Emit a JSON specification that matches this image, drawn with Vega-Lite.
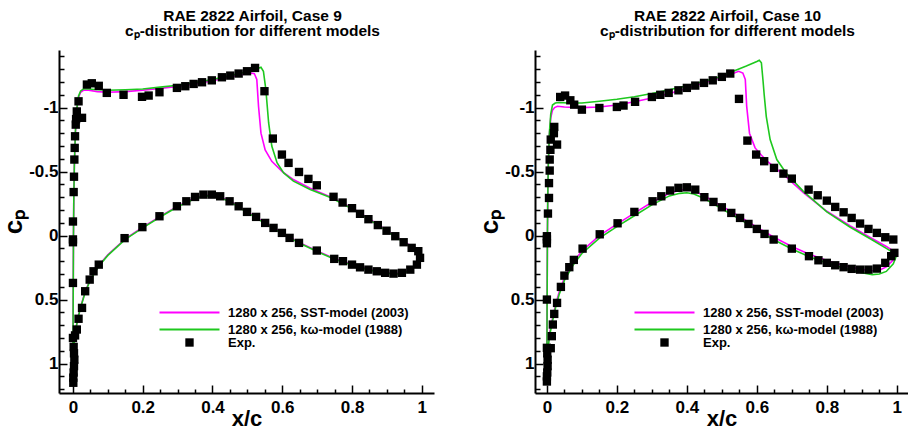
{
"$schema": "https://vega.github.io/schema/vega-lite/v6.json",
"autosize": {"type": "pad"},
"padding": {"left": 0, "top": 8, "right": 0, "bottom": 3},
"background": "white",
"spacing": 101,
"bounds": "flush",
"datasets": {
"cfd": [
{"case":9,"model":"SST","i":0,"x":1,"cp":0.16},{"case":9,"model":"SST","i":1,"x":0.99,"cp":0.21},{"case":9,"model":"SST","i":2,"x":0.97,"cp":0.26},{"case":9,"model":"SST","i":3,"x":0.95,"cp":0.285},{"case":9,"model":"SST","i":4,"x":0.93,"cp":0.295},{"case":9,"model":"SST","i":5,"x":0.9,"cp":0.29},{"case":9,"model":"SST","i":6,"x":0.85,"cp":0.265},{"case":9,"model":"SST","i":7,"x":0.8,"cp":0.225},{"case":9,"model":"SST","i":8,"x":0.75,"cp":0.18},{"case":9,"model":"SST","i":9,"x":0.7,"cp":0.12},{"case":9,"model":"SST","i":10,"x":0.65,"cp":0.055},{"case":9,"model":"SST","i":11,"x":0.6,"cp":-0.02},{"case":9,"model":"SST","i":12,"x":0.55,"cp":-0.1},{"case":9,"model":"SST","i":13,"x":0.5,"cp":-0.185},{"case":9,"model":"SST","i":14,"x":0.45,"cp":-0.27},{"case":9,"model":"SST","i":15,"x":0.42,"cp":-0.305},{"case":9,"model":"SST","i":16,"x":0.4,"cp":-0.315},{"case":9,"model":"SST","i":17,"x":0.38,"cp":-0.315},{"case":9,"model":"SST","i":18,"x":0.35,"cp":-0.295},{"case":9,"model":"SST","i":19,"x":0.3,"cp":-0.23},{"case":9,"model":"SST","i":20,"x":0.25,"cp":-0.15},{"case":9,"model":"SST","i":21,"x":0.2,"cp":-0.065},{"case":9,"model":"SST","i":22,"x":0.15,"cp":0.025},{"case":9,"model":"SST","i":23,"x":0.1,"cp":0.15},{"case":9,"model":"SST","i":24,"x":0.075,"cp":0.23},{"case":9,"model":"SST","i":25,"x":0.05,"cp":0.34},{"case":9,"model":"SST","i":26,"x":0.035,"cp":0.44},{"case":9,"model":"SST","i":27,"x":0.025,"cp":0.53},{"case":9,"model":"SST","i":28,"x":0.015,"cp":0.63},{"case":9,"model":"SST","i":29,"x":0.008,"cp":0.73},{"case":9,"model":"SST","i":30,"x":0.003,"cp":0.85},{"case":9,"model":"SST","i":31,"x":0,"cp":1.0},
{"case":9,"model":"SST","i":32,"x":0.0005,"cp":0.6},{"case":9,"model":"SST","i":33,"x":0.001,"cp":0.3},{"case":9,"model":"SST","i":34,"x":0.0015,"cp":0},{"case":9,"model":"SST","i":35,"x":0.0025,"cp":-0.3},{"case":9,"model":"SST","i":36,"x":0.004,"cp":-0.55},{"case":9,"model":"SST","i":37,"x":0.007,"cp":-0.8},{"case":9,"model":"SST","i":38,"x":0.011,"cp":-0.98},{"case":9,"model":"SST","i":39,"x":0.016,"cp":-1.08},{"case":9,"model":"SST","i":40,"x":0.022,"cp":-1.12},{"case":9,"model":"SST","i":41,"x":0.03,"cp":-1.135},{"case":9,"model":"SST","i":42,"x":0.045,"cp":-1.135},{"case":9,"model":"SST","i":43,"x":0.07,"cp":-1.125},{"case":9,"model":"SST","i":44,"x":0.1,"cp":-1.12},{"case":9,"model":"SST","i":45,"x":0.15,"cp":-1.125},{"case":9,"model":"SST","i":46,"x":0.2,"cp":-1.135},{"case":9,"model":"SST","i":47,"x":0.25,"cp":-1.15},{"case":9,"model":"SST","i":48,"x":0.3,"cp":-1.165},{"case":9,"model":"SST","i":49,"x":0.35,"cp":-1.185},{"case":9,"model":"SST","i":50,"x":0.4,"cp":-1.21},{"case":9,"model":"SST","i":51,"x":0.45,"cp":-1.24},{"case":9,"model":"SST","i":52,"x":0.49,"cp":-1.26},{"case":9,"model":"SST","i":53,"x":0.51,"cp":-1.27},{"case":9,"model":"SST","i":54,"x":0.52,"cp":-1.265},{"case":9,"model":"SST","i":55,"x":0.527,"cp":-1.22},{"case":9,"model":"SST","i":56,"x":0.532,"cp":-1.01},{"case":9,"model":"SST","i":57,"x":0.539,"cp":-0.8},{"case":9,"model":"SST","i":58,"x":0.551,"cp":-0.67},{"case":9,"model":"SST","i":59,"x":0.57,"cp":-0.58},{"case":9,"model":"SST","i":60,"x":0.6,"cp":-0.5},{"case":9,"model":"SST","i":61,"x":0.63,"cp":-0.44},{"case":9,"model":"SST","i":62,"x":0.68,"cp":-0.37},{"case":9,"model":"SST","i":63,"x":0.74,"cp":-0.3},{"case":9,"model":"SST","i":64,"x":0.8,"cp":-0.215},{"case":9,"model":"SST","i":65,"x":0.85,"cp":-0.13},{"case":9,"model":"SST","i":66,"x":0.9,"cp":-0.04},{"case":9,"model":"SST","i":67,"x":0.95,"cp":0.05},{"case":9,"model":"SST","i":68,"x":0.98,"cp":0.1},{"case":9,"model":"SST","i":69,"x":1,"cp":0.16},
{"case":9,"model":"kw","i":0,"x":1,"cp":0.165},{"case":9,"model":"kw","i":1,"x":0.99,"cp":0.215},{"case":9,"model":"kw","i":2,"x":0.97,"cp":0.265},{"case":9,"model":"kw","i":3,"x":0.95,"cp":0.29},{"case":9,"model":"kw","i":4,"x":0.93,"cp":0.3},{"case":9,"model":"kw","i":5,"x":0.9,"cp":0.295},{"case":9,"model":"kw","i":6,"x":0.85,"cp":0.27},{"case":9,"model":"kw","i":7,"x":0.8,"cp":0.23},{"case":9,"model":"kw","i":8,"x":0.75,"cp":0.185},{"case":9,"model":"kw","i":9,"x":0.7,"cp":0.125},{"case":9,"model":"kw","i":10,"x":0.65,"cp":0.06},{"case":9,"model":"kw","i":11,"x":0.6,"cp":-0.015},{"case":9,"model":"kw","i":12,"x":0.55,"cp":-0.095},{"case":9,"model":"kw","i":13,"x":0.5,"cp":-0.18},{"case":9,"model":"kw","i":14,"x":0.45,"cp":-0.265},{"case":9,"model":"kw","i":15,"x":0.42,"cp":-0.3},{"case":9,"model":"kw","i":16,"x":0.4,"cp":-0.31},{"case":9,"model":"kw","i":17,"x":0.38,"cp":-0.31},{"case":9,"model":"kw","i":18,"x":0.35,"cp":-0.29},{"case":9,"model":"kw","i":19,"x":0.3,"cp":-0.225},{"case":9,"model":"kw","i":20,"x":0.25,"cp":-0.145},{"case":9,"model":"kw","i":21,"x":0.2,"cp":-0.06},{"case":9,"model":"kw","i":22,"x":0.15,"cp":0.03},{"case":9,"model":"kw","i":23,"x":0.1,"cp":0.155},{"case":9,"model":"kw","i":24,"x":0.075,"cp":0.235},{"case":9,"model":"kw","i":25,"x":0.05,"cp":0.345},{"case":9,"model":"kw","i":26,"x":0.035,"cp":0.445},{"case":9,"model":"kw","i":27,"x":0.025,"cp":0.535},{"case":9,"model":"kw","i":28,"x":0.015,"cp":0.635},{"case":9,"model":"kw","i":29,"x":0.008,"cp":0.735},{"case":9,"model":"kw","i":30,"x":0.003,"cp":0.855},{"case":9,"model":"kw","i":31,"x":0,"cp":1.0},
{"case":9,"model":"kw","i":32,"x":0.0005,"cp":0.6},{"case":9,"model":"kw","i":33,"x":0.001,"cp":0.3},{"case":9,"model":"kw","i":34,"x":0.0015,"cp":0},{"case":9,"model":"kw","i":35,"x":0.0025,"cp":-0.3},{"case":9,"model":"kw","i":36,"x":0.004,"cp":-0.55},{"case":9,"model":"kw","i":37,"x":0.007,"cp":-0.81},{"case":9,"model":"kw","i":38,"x":0.011,"cp":-0.99},{"case":9,"model":"kw","i":39,"x":0.016,"cp":-1.09},{"case":9,"model":"kw","i":40,"x":0.022,"cp":-1.13},{"case":9,"model":"kw","i":41,"x":0.03,"cp":-1.145},{"case":9,"model":"kw","i":42,"x":0.045,"cp":-1.145},{"case":9,"model":"kw","i":43,"x":0.07,"cp":-1.14},{"case":9,"model":"kw","i":44,"x":0.1,"cp":-1.135},{"case":9,"model":"kw","i":45,"x":0.15,"cp":-1.14},{"case":9,"model":"kw","i":46,"x":0.2,"cp":-1.145},{"case":9,"model":"kw","i":47,"x":0.25,"cp":-1.16},{"case":9,"model":"kw","i":48,"x":0.3,"cp":-1.175},{"case":9,"model":"kw","i":49,"x":0.35,"cp":-1.195},{"case":9,"model":"kw","i":50,"x":0.4,"cp":-1.22},{"case":9,"model":"kw","i":51,"x":0.45,"cp":-1.25},{"case":9,"model":"kw","i":52,"x":0.5,"cp":-1.28},{"case":9,"model":"kw","i":53,"x":0.53,"cp":-1.305},{"case":9,"model":"kw","i":54,"x":0.539,"cp":-1.315},{"case":9,"model":"kw","i":55,"x":0.546,"cp":-1.284},{"case":9,"model":"kw","i":56,"x":0.553,"cp":-1.14},{"case":9,"model":"kw","i":57,"x":0.561,"cp":-0.88},{"case":9,"model":"kw","i":58,"x":0.57,"cp":-0.7},{"case":9,"model":"kw","i":59,"x":0.585,"cp":-0.57},{"case":9,"model":"kw","i":60,"x":0.604,"cp":-0.49},{"case":9,"model":"kw","i":61,"x":0.632,"cp":-0.425},{"case":9,"model":"kw","i":62,"x":0.68,"cp":-0.36},{"case":9,"model":"kw","i":63,"x":0.74,"cp":-0.295},{"case":9,"model":"kw","i":64,"x":0.8,"cp":-0.21},{"case":9,"model":"kw","i":65,"x":0.85,"cp":-0.125},{"case":9,"model":"kw","i":66,"x":0.9,"cp":-0.035},{"case":9,"model":"kw","i":67,"x":0.95,"cp":0.055},{"case":9,"model":"kw","i":68,"x":0.98,"cp":0.105},{"case":9,"model":"kw","i":69,"x":1,"cp":0.165},
{"case":10,"model":"SST","i":0,"x":1,"cp":0.14},{"case":10,"model":"SST","i":1,"x":0.99,"cp":0.19},{"case":10,"model":"SST","i":2,"x":0.97,"cp":0.245},{"case":10,"model":"SST","i":3,"x":0.95,"cp":0.27},{"case":10,"model":"SST","i":4,"x":0.93,"cp":0.275},{"case":10,"model":"SST","i":5,"x":0.9,"cp":0.265},{"case":10,"model":"SST","i":6,"x":0.85,"cp":0.235},{"case":10,"model":"SST","i":7,"x":0.8,"cp":0.195},{"case":10,"model":"SST","i":8,"x":0.75,"cp":0.145},{"case":10,"model":"SST","i":9,"x":0.7,"cp":0.085},{"case":10,"model":"SST","i":10,"x":0.65,"cp":0.015},{"case":10,"model":"SST","i":11,"x":0.6,"cp":-0.065},{"case":10,"model":"SST","i":12,"x":0.55,"cp":-0.15},{"case":10,"model":"SST","i":13,"x":0.5,"cp":-0.23},{"case":10,"model":"SST","i":14,"x":0.45,"cp":-0.31},{"case":10,"model":"SST","i":15,"x":0.42,"cp":-0.35},{"case":10,"model":"SST","i":16,"x":0.4,"cp":-0.36},{"case":10,"model":"SST","i":17,"x":0.38,"cp":-0.355},{"case":10,"model":"SST","i":18,"x":0.35,"cp":-0.33},{"case":10,"model":"SST","i":19,"x":0.3,"cp":-0.26},{"case":10,"model":"SST","i":20,"x":0.25,"cp":-0.175},{"case":10,"model":"SST","i":21,"x":0.2,"cp":-0.09},{"case":10,"model":"SST","i":22,"x":0.15,"cp":0.0},{"case":10,"model":"SST","i":23,"x":0.1,"cp":0.12},{"case":10,"model":"SST","i":24,"x":0.075,"cp":0.21},{"case":10,"model":"SST","i":25,"x":0.05,"cp":0.33},{"case":10,"model":"SST","i":26,"x":0.035,"cp":0.44},{"case":10,"model":"SST","i":27,"x":0.025,"cp":0.54},{"case":10,"model":"SST","i":28,"x":0.015,"cp":0.66},{"case":10,"model":"SST","i":29,"x":0.008,"cp":0.76},{"case":10,"model":"SST","i":30,"x":0.003,"cp":0.87},{"case":10,"model":"SST","i":31,"x":0,"cp":1.0},
{"case":10,"model":"SST","i":32,"x":0.0005,"cp":0.6},{"case":10,"model":"SST","i":33,"x":0.001,"cp":0.3},{"case":10,"model":"SST","i":34,"x":0.0015,"cp":0},{"case":10,"model":"SST","i":35,"x":0.0025,"cp":-0.3},{"case":10,"model":"SST","i":36,"x":0.004,"cp":-0.55},{"case":10,"model":"SST","i":37,"x":0.007,"cp":-0.78},{"case":10,"model":"SST","i":38,"x":0.011,"cp":-0.92},{"case":10,"model":"SST","i":39,"x":0.016,"cp":-0.98},{"case":10,"model":"SST","i":40,"x":0.022,"cp":-1.0},{"case":10,"model":"SST","i":41,"x":0.03,"cp":-1.01},{"case":10,"model":"SST","i":42,"x":0.05,"cp":-1.005},{"case":10,"model":"SST","i":43,"x":0.1,"cp":-1.0},{"case":10,"model":"SST","i":44,"x":0.15,"cp":-1.005},{"case":10,"model":"SST","i":45,"x":0.2,"cp":-1.02},{"case":10,"model":"SST","i":46,"x":0.25,"cp":-1.045},{"case":10,"model":"SST","i":47,"x":0.3,"cp":-1.075},{"case":10,"model":"SST","i":48,"x":0.35,"cp":-1.11},{"case":10,"model":"SST","i":49,"x":0.4,"cp":-1.15},{"case":10,"model":"SST","i":50,"x":0.45,"cp":-1.195},{"case":10,"model":"SST","i":51,"x":0.5,"cp":-1.235},{"case":10,"model":"SST","i":52,"x":0.53,"cp":-1.265},{"case":10,"model":"SST","i":53,"x":0.548,"cp":-1.284},{"case":10,"model":"SST","i":54,"x":0.56,"cp":-1.27},{"case":10,"model":"SST","i":55,"x":0.567,"cp":-1.22},{"case":10,"model":"SST","i":56,"x":0.571,"cp":-1.01},{"case":10,"model":"SST","i":57,"x":0.579,"cp":-0.8},{"case":10,"model":"SST","i":58,"x":0.595,"cp":-0.685},{"case":10,"model":"SST","i":59,"x":0.624,"cp":-0.594},{"case":10,"model":"SST","i":60,"x":0.676,"cp":-0.477},{"case":10,"model":"SST","i":61,"x":0.733,"cp":-0.335},{"case":10,"model":"SST","i":62,"x":0.8,"cp":-0.19},{"case":10,"model":"SST","i":63,"x":0.867,"cp":-0.075},{"case":10,"model":"SST","i":64,"x":0.924,"cp":0.015},{"case":10,"model":"SST","i":65,"x":0.97,"cp":0.085},{"case":10,"model":"SST","i":66,"x":1,"cp":0.14},
{"case":10,"model":"kw","i":0,"x":1,"cp":0.15},{"case":10,"model":"kw","i":1,"x":0.99,"cp":0.22},{"case":10,"model":"kw","i":2,"x":0.97,"cp":0.28},{"case":10,"model":"kw","i":3,"x":0.95,"cp":0.3},{"case":10,"model":"kw","i":4,"x":0.93,"cp":0.305},{"case":10,"model":"kw","i":5,"x":0.9,"cp":0.29},{"case":10,"model":"kw","i":6,"x":0.85,"cp":0.255},{"case":10,"model":"kw","i":7,"x":0.8,"cp":0.215},{"case":10,"model":"kw","i":8,"x":0.75,"cp":0.165},{"case":10,"model":"kw","i":9,"x":0.7,"cp":0.105},{"case":10,"model":"kw","i":10,"x":0.65,"cp":0.035},{"case":10,"model":"kw","i":11,"x":0.6,"cp":-0.045},{"case":10,"model":"kw","i":12,"x":0.55,"cp":-0.13},{"case":10,"model":"kw","i":13,"x":0.5,"cp":-0.21},{"case":10,"model":"kw","i":14,"x":0.45,"cp":-0.29},{"case":10,"model":"kw","i":15,"x":0.42,"cp":-0.325},{"case":10,"model":"kw","i":16,"x":0.4,"cp":-0.335},{"case":10,"model":"kw","i":17,"x":0.38,"cp":-0.33},{"case":10,"model":"kw","i":18,"x":0.35,"cp":-0.31},{"case":10,"model":"kw","i":19,"x":0.3,"cp":-0.24},{"case":10,"model":"kw","i":20,"x":0.25,"cp":-0.155},{"case":10,"model":"kw","i":21,"x":0.2,"cp":-0.07},{"case":10,"model":"kw","i":22,"x":0.15,"cp":0.02},{"case":10,"model":"kw","i":23,"x":0.1,"cp":0.14},{"case":10,"model":"kw","i":24,"x":0.075,"cp":0.23},{"case":10,"model":"kw","i":25,"x":0.05,"cp":0.35},{"case":10,"model":"kw","i":26,"x":0.035,"cp":0.46},{"case":10,"model":"kw","i":27,"x":0.025,"cp":0.56},{"case":10,"model":"kw","i":28,"x":0.015,"cp":0.68},{"case":10,"model":"kw","i":29,"x":0.008,"cp":0.78},{"case":10,"model":"kw","i":30,"x":0.003,"cp":0.88},{"case":10,"model":"kw","i":31,"x":0,"cp":1.0},
{"case":10,"model":"kw","i":32,"x":0.0005,"cp":0.6},{"case":10,"model":"kw","i":33,"x":0.001,"cp":0.3},{"case":10,"model":"kw","i":34,"x":0.0015,"cp":0},{"case":10,"model":"kw","i":35,"x":0.0025,"cp":-0.3},{"case":10,"model":"kw","i":36,"x":0.004,"cp":-0.55},{"case":10,"model":"kw","i":37,"x":0.007,"cp":-0.8},{"case":10,"model":"kw","i":38,"x":0.011,"cp":-0.95},{"case":10,"model":"kw","i":39,"x":0.016,"cp":-1.02},{"case":10,"model":"kw","i":40,"x":0.024,"cp":-1.036},{"case":10,"model":"kw","i":41,"x":0.035,"cp":-1.04},{"case":10,"model":"kw","i":42,"x":0.06,"cp":-1.036},{"case":10,"model":"kw","i":43,"x":0.1,"cp":-1.036},{"case":10,"model":"kw","i":44,"x":0.15,"cp":-1.05},{"case":10,"model":"kw","i":45,"x":0.2,"cp":-1.065},{"case":10,"model":"kw","i":46,"x":0.25,"cp":-1.085},{"case":10,"model":"kw","i":47,"x":0.3,"cp":-1.11},{"case":10,"model":"kw","i":48,"x":0.35,"cp":-1.14},{"case":10,"model":"kw","i":49,"x":0.4,"cp":-1.17},{"case":10,"model":"kw","i":50,"x":0.45,"cp":-1.205},{"case":10,"model":"kw","i":51,"x":0.5,"cp":-1.245},{"case":10,"model":"kw","i":52,"x":0.538,"cp":-1.29},{"case":10,"model":"kw","i":53,"x":0.57,"cp":-1.325},{"case":10,"model":"kw","i":54,"x":0.6,"cp":-1.36},{"case":10,"model":"kw","i":55,"x":0.607,"cp":-1.37},{"case":10,"model":"kw","i":56,"x":0.613,"cp":-1.35},{"case":10,"model":"kw","i":57,"x":0.618,"cp":-1.2},{"case":10,"model":"kw","i":58,"x":0.621,"cp":-1.1},{"case":10,"model":"kw","i":59,"x":0.627,"cp":-0.93},{"case":10,"model":"kw","i":60,"x":0.638,"cp":-0.75},{"case":10,"model":"kw","i":61,"x":0.657,"cp":-0.594},{"case":10,"model":"kw","i":62,"x":0.686,"cp":-0.48},{"case":10,"model":"kw","i":63,"x":0.733,"cp":-0.345},{"case":10,"model":"kw","i":64,"x":0.8,"cp":-0.185},{"case":10,"model":"kw","i":65,"x":0.867,"cp":-0.065},{"case":10,"model":"kw","i":66,"x":0.924,"cp":0.025},{"case":10,"model":"kw","i":67,"x":0.97,"cp":0.1},{"case":10,"model":"kw","i":68,"x":1,"cp":0.15}
],
"exp": [
{"case":9,"x":0.0,"cp":0.03},{"case":9,"x":0.0,"cp":-0.11},{"case":9,"x":0.002,"cp":-0.34},{"case":9,"x":0.003,"cp":-0.46},{"case":9,"x":0.004,"cp":-0.594},{"case":9,"x":0.005,"cp":-0.685},{"case":9,"x":0.006,"cp":-0.776},{"case":9,"x":0.008,"cp":-0.867},{"case":9,"x":0.009,"cp":-0.91},{"case":9,"x":0.011,"cp":-0.97},{"case":9,"x":0.016,"cp":-1.049},{"case":9,"x":0.026,"cp":-0.92},
{"case":9,"x":0.04,"cp":-1.18},{"case":9,"x":0.054,"cp":-1.19},{"case":9,"x":0.074,"cp":-1.17},{"case":9,"x":0.097,"cp":-1.115},{"case":9,"x":0.145,"cp":-1.1},{"case":9,"x":0.198,"cp":-1.084},{"case":9,"x":0.217,"cp":-1.094},{"case":9,"x":0.248,"cp":-1.12},{"case":9,"x":0.298,"cp":-1.154},{"case":9,"x":0.322,"cp":-1.167},{"case":9,"x":0.346,"cp":-1.185},{"case":9,"x":0.37,"cp":-1.198},{"case":9,"x":0.398,"cp":-1.213},{"case":9,"x":0.427,"cp":-1.237},{"case":9,"x":0.451,"cp":-1.25},{"case":9,"x":0.475,"cp":-1.266},{"case":9,"x":0.499,"cp":-1.284},{"case":9,"x":0.522,"cp":-1.31},{"case":9,"x":0.549,"cp":-1.128},{"case":9,"x":0.573,"cp":-0.758},{"case":9,"x":0.599,"cp":-0.633},{"case":9,"x":0.618,"cp":-0.568},{"case":9,"x":0.648,"cp":-0.497},{"case":9,"x":0.675,"cp":-0.443},{"case":9,"x":0.699,"cp":-0.393},{"case":9,"x":0.747,"cp":-0.303},{"case":9,"x":0.773,"cp":-0.258},{"case":9,"x":0.8,"cp":-0.214},{"case":9,"x":0.823,"cp":-0.17},{"case":9,"x":0.847,"cp":-0.128},{"case":9,"x":0.874,"cp":-0.082},{"case":9,"x":0.899,"cp":-0.038},{"case":9,"x":0.924,"cp":0.005},{"case":9,"x":0.948,"cp":0.052},{"case":9,"x":0.971,"cp":0.096},{"case":9,"x":0.99,"cp":0.122},
{"case":9,"x":0.0,"cp":0.052},{"case":9,"x":0.0,"cp":0.37},{"case":9,"x":0.0,"cp":0.8},{"case":9,"x":0.002,"cp":0.87},{"case":9,"x":0.003,"cp":0.92},{"case":9,"x":0.004,"cp":0.97},{"case":9,"x":0.003,"cp":1.02},{"case":9,"x":0.002,"cp":1.07},{"case":9,"x":0.001,"cp":1.11},{"case":9,"x":0.001,"cp":1.15},{"case":9,"x":0.006,"cp":0.78},{"case":9,"x":0.011,"cp":0.734},{"case":9,"x":0.016,"cp":0.65},{"case":9,"x":0.026,"cp":0.565},{"case":9,"x":0.035,"cp":0.435},{"case":9,"x":0.048,"cp":0.344},{"case":9,"x":0.059,"cp":0.279},{"case":9,"x":0.074,"cp":0.227},{"case":9,"x":0.148,"cp":0.02},{"case":9,"x":0.199,"cp":-0.066},{"case":9,"x":0.248,"cp":-0.151},{"case":9,"x":0.298,"cp":-0.229},{"case":9,"x":0.325,"cp":-0.268},{"case":9,"x":0.35,"cp":-0.302},{"case":9,"x":0.374,"cp":-0.32},{"case":9,"x":0.398,"cp":-0.32},{"case":9,"x":0.422,"cp":-0.307},{"case":9,"x":0.449,"cp":-0.268},{"case":9,"x":0.475,"cp":-0.229},{"case":9,"x":0.499,"cp":-0.185},{"case":9,"x":0.525,"cp":-0.146},{"case":9,"x":0.551,"cp":-0.099},{"case":9,"x":0.575,"cp":-0.06},{"case":9,"x":0.599,"cp":-0.021},{"case":9,"x":0.621,"cp":0.018},{"case":9,"x":0.648,"cp":0.057},{"case":9,"x":0.699,"cp":0.117},{"case":9,"x":0.749,"cp":0.182},{"case":9,"x":0.774,"cp":0.2},{"case":9,"x":0.8,"cp":0.227},{"case":9,"x":0.823,"cp":0.248},{"case":9,"x":0.847,"cp":0.266},{"case":9,"x":0.871,"cp":0.279},{"case":9,"x":0.895,"cp":0.291},{"case":9,"x":0.919,"cp":0.297},{"case":9,"x":0.943,"cp":0.291},{"case":9,"x":0.967,"cp":0.266},{"case":9,"x":0.986,"cp":0.227},{"case":9,"x":0.995,"cp":0.174},
{"case":10,"x":0.0,"cp":0.005},{"case":10,"x":0.003,"cp":-0.172},{"case":10,"x":0.006,"cp":-0.294},{"case":10,"x":0.006,"cp":-0.41},{"case":10,"x":0.008,"cp":-0.508},{"case":10,"x":0.008,"cp":-0.594},{"case":10,"x":0.01,"cp":-0.67},{"case":10,"x":0.029,"cp":-0.711},{"case":10,"x":0.011,"cp":-0.75},{"case":10,"x":0.02,"cp":-0.8},{"case":10,"x":0.021,"cp":-0.849},{"case":10,"x":0.038,"cp":-1.083},{"case":10,"x":0.052,"cp":-1.094},{"case":10,"x":0.067,"cp":-1.057},{"case":10,"x":0.078,"cp":-1.023},{"case":10,"x":0.1,"cp":-0.984},{"case":10,"x":0.15,"cp":-0.997},{"case":10,"x":0.2,"cp":-1.005},{"case":10,"x":0.219,"cp":-1.016},{"case":10,"x":0.252,"cp":-1.045},{"case":10,"x":0.3,"cp":-1.083},{"case":10,"x":0.324,"cp":-1.1},{"case":10,"x":0.348,"cp":-1.115},{"case":10,"x":0.376,"cp":-1.135},{"case":10,"x":0.4,"cp":-1.154},{"case":10,"x":0.424,"cp":-1.172},{"case":10,"x":0.449,"cp":-1.193},{"case":10,"x":0.474,"cp":-1.213},{"case":10,"x":0.5,"cp":-1.24},{"case":10,"x":0.524,"cp":-1.266},{"case":10,"x":0.549,"cp":-1.068},{"case":10,"x":0.573,"cp":-0.742},{"case":10,"x":0.598,"cp":-0.633},{"case":10,"x":0.621,"cp":-0.581},{"case":10,"x":0.649,"cp":-0.529},{"case":10,"x":0.676,"cp":-0.484},{"case":10,"x":0.7,"cp":-0.445},{"case":10,"x":0.748,"cp":-0.359},{"case":10,"x":0.774,"cp":-0.315},{"case":10,"x":0.8,"cp":-0.273},{"case":10,"x":0.824,"cp":-0.224},{"case":10,"x":0.848,"cp":-0.182},{"case":10,"x":0.871,"cp":-0.138},{"case":10,"x":0.895,"cp":-0.094},{"case":10,"x":0.919,"cp":-0.052},{"case":10,"x":0.943,"cp":-0.021},{"case":10,"x":0.967,"cp":0.013},{"case":10,"x":0.99,"cp":0.031},
{"case":10,"x":0.0,"cp":0.03},{"case":10,"x":0.0,"cp":0.06},{"case":10,"x":0.0,"cp":0.5},{"case":10,"x":0.0,"cp":0.877},{"case":10,"x":0.001,"cp":0.92},{"case":10,"x":0.002,"cp":0.97},{"case":10,"x":0.002,"cp":1.02},{"case":10,"x":0.001,"cp":1.07},{"case":10,"x":0.0,"cp":1.1},{"case":10,"x":0.0,"cp":1.14},{"case":10,"x":0.011,"cp":0.88},{"case":10,"x":0.014,"cp":0.786},{"case":10,"x":0.017,"cp":0.695},{"case":10,"x":0.021,"cp":0.612},{"case":10,"x":0.029,"cp":0.526},{"case":10,"x":0.04,"cp":0.401},{"case":10,"x":0.05,"cp":0.313},{"case":10,"x":0.064,"cp":0.247},{"case":10,"x":0.077,"cp":0.19},{"case":10,"x":0.102,"cp":0.102},{"case":10,"x":0.151,"cp":-0.01},{"case":10,"x":0.202,"cp":-0.096},{"case":10,"x":0.25,"cp":-0.185},{"case":10,"x":0.302,"cp":-0.268},{"case":10,"x":0.327,"cp":-0.307},{"case":10,"x":0.352,"cp":-0.352},{"case":10,"x":0.376,"cp":-0.373},{"case":10,"x":0.4,"cp":-0.377},{"case":10,"x":0.424,"cp":-0.359},{"case":10,"x":0.45,"cp":-0.3},{"case":10,"x":0.476,"cp":-0.263},{"case":10,"x":0.5,"cp":-0.221},{"case":10,"x":0.527,"cp":-0.177},{"case":10,"x":0.552,"cp":-0.138},{"case":10,"x":0.576,"cp":-0.091},{"case":10,"x":0.6,"cp":-0.052},{"case":10,"x":0.622,"cp":-0.013},{"case":10,"x":0.648,"cp":0.031},{"case":10,"x":0.7,"cp":0.102},{"case":10,"x":0.749,"cp":0.161},{"case":10,"x":0.776,"cp":0.193},{"case":10,"x":0.8,"cp":0.213},{"case":10,"x":0.824,"cp":0.232},{"case":10,"x":0.848,"cp":0.247},{"case":10,"x":0.871,"cp":0.26},{"case":10,"x":0.895,"cp":0.266},{"case":10,"x":0.919,"cp":0.266},{"case":10,"x":0.943,"cp":0.258},{"case":10,"x":0.967,"cp":0.213},{"case":10,"x":0.984,"cp":0.161},{"case":10,"x":0.993,"cp":0.135}
]
},
"hconcat": [
{
"width": 375, "height": 343,
"title": {"text": ["RAE 2822 Airfoil, Case 9", "cₚ-distribution for different models"], "frame": "group", "anchor": "middle", "offset": 11, "dx": 6},
"resolve": {"axis": {"x": "independent", "y": "independent"}},
"layer": [
{"data": {"name": "cfd"}, "transform": [{"filter": "datum.case === 9 && datum.model === 'SST'"}],
 "mark": {"type": "line", "strokeWidth": 1.6, "clip": true},
 "encoding": {
  "x": {"field": "x", "type": "quantitative", "scale": {"domain": [-0.04, 1.035], "nice": false, "zero": false},
    "axis": {"orient": "bottom", "values": [0.05,0.1,0.15,0.25,0.3,0.35,0.45,0.5,0.55,0.65,0.7,0.75,0.85,0.9,0.95], "labels": false, "domain": false, "tickSize": -4, "title": null}},
  "y": {"field": "cp", "type": "quantitative", "scale": {"domain": [-1.45, 1.23], "nice": false, "zero": false, "reverse": true},
    "axis": {"orient": "left", "values": [-1.4,-1.3,-1.2,-1.1,-0.9,-0.8,-0.7,-0.6,-0.4,-0.3,-0.2,-0.1,0.1,0.2,0.3,0.4,0.6,0.7,0.8,0.9,1.1,1.2], "labels": false, "domain": false, "tickSize": -5, "title": null}},
  "order": {"field": "i", "type": "quantitative"},
  "color": {"field": "model", "type": "nominal", "scale": {"domain": ["SST", "kw"], "range": ["#ff00ff", "#1ec81e"]},
    "legend": {"orient": "none", "legendX": 99, "legendY": 256, "title": null, "symbolType": "M-1,0H11", "symbolSize": 100, "symbolStrokeWidth": 2, "labelOffset": 57, "rowPadding": 3,
      "labelExpr": "datum.value === 'SST' ? '1280 x 256, SST-model (2003)' : '1280 x 256, kω-model (1988)'"}}
 }},
{"data": {"name": "cfd"}, "transform": [{"filter": "datum.case === 9 && datum.model === 'kw'"}],
 "mark": {"type": "line", "strokeWidth": 1.6, "clip": true},
 "encoding": {
  "x": {"field": "x", "type": "quantitative",
    "axis": {"orient": "bottom", "values": [0,0.2,0.4,0.6,0.8,1], "labelExpr": "toString(datum.value)", "tickSize": -8, "labelPadding": 14, "title": "x/c", "titleFontSize": 22, "titlePadding": -7}},
  "y": {"field": "cp", "type": "quantitative",
    "axis": {"orient": "left", "values": [-1,-0.5,0,0.5,1], "labelExpr": "toString(datum.value)", "tickSize": -8, "labelPadding": 9, "title": "cₚ", "titleFontSize": 26, "titlePadding": 2}},
  "order": {"field": "i", "type": "quantitative"},
  "color": {"field": "model", "type": "nominal"}
 }},
{"data": {"name": "exp"}, "transform": [{"filter": "datum.case === 9"}],
 "mark": {"type": "point", "shape": "square", "filled": true, "size": 70, "color": "black", "opacity": 1, "clip": true},
 "encoding": {
  "x": {"field": "x", "type": "quantitative", "axis": null},
  "y": {"field": "cp", "type": "quantitative", "axis": null},
  "shape": {"datum": "Exp.", "scale": {"domain": ["Exp."], "range": ["square"]},
    "legend": {"orient": "none", "legendX": 124, "legendY": 286, "title": null, "symbolSize": 70, "symbolFillColor": "black", "symbolStrokeWidth": 0, "labelOffset": 32}}
 }}
]
},
{
"width": 373, "height": 343,
"title": {"text": ["RAE 2822 Airfoil, Case 10", "cₚ-distribution for different models"], "frame": "group", "anchor": "middle", "offset": 11, "dx": 6},
"resolve": {"axis": {"x": "independent", "y": "independent"}},
"layer": [
{"data": {"name": "cfd"}, "transform": [{"filter": "datum.case === 10 && datum.model === 'SST'"}],
 "mark": {"type": "line", "strokeWidth": 1.6, "clip": true},
 "encoding": {
  "x": {"field": "x", "type": "quantitative", "scale": {"domain": [-0.034, 1.032], "nice": false, "zero": false},
    "axis": {"orient": "bottom", "values": [0.05,0.1,0.15,0.25,0.3,0.35,0.45,0.5,0.55,0.65,0.7,0.75,0.85,0.9,0.95], "labels": false, "domain": false, "tickSize": -4, "title": null}},
  "y": {"field": "cp", "type": "quantitative", "scale": {"domain": [-1.45, 1.23], "nice": false, "zero": false, "reverse": true},
    "axis": {"orient": "left", "values": [-1.4,-1.3,-1.2,-1.1,-0.9,-0.8,-0.7,-0.6,-0.4,-0.3,-0.2,-0.1,0.1,0.2,0.3,0.4,0.6,0.7,0.8,0.9,1.1,1.2], "labels": false, "domain": false, "tickSize": -5, "title": null}},
  "order": {"field": "i", "type": "quantitative"},
  "color": {"field": "model", "type": "nominal", "scale": {"domain": ["SST", "kw"], "range": ["#ff00ff", "#1ec81e"]},
    "legend": {"orient": "none", "legendX": 98, "legendY": 256, "title": null, "symbolType": "M-1,0H11", "symbolSize": 100, "symbolStrokeWidth": 2, "labelOffset": 57, "rowPadding": 3,
      "labelExpr": "datum.value === 'SST' ? '1280 x 256, SST-model (2003)' : '1280 x 256, kω-model (1988)'"}}
 }},
{"data": {"name": "cfd"}, "transform": [{"filter": "datum.case === 10 && datum.model === 'kw'"}],
 "mark": {"type": "line", "strokeWidth": 1.6, "clip": true},
 "encoding": {
  "x": {"field": "x", "type": "quantitative",
    "axis": {"orient": "bottom", "values": [0,0.2,0.4,0.6,0.8,1], "labelExpr": "toString(datum.value)", "tickSize": -8, "labelPadding": 14, "title": "x/c", "titleFontSize": 22, "titlePadding": -7}},
  "y": {"field": "cp", "type": "quantitative",
    "axis": {"orient": "left", "values": [-1,-0.5,0,0.5,1], "labelExpr": "toString(datum.value)", "tickSize": -8, "labelPadding": 9, "title": "cₚ", "titleFontSize": 26, "titlePadding": 2}},
  "order": {"field": "i", "type": "quantitative"},
  "color": {"field": "model", "type": "nominal"}
 }},
{"data": {"name": "exp"}, "transform": [{"filter": "datum.case === 10"}],
 "mark": {"type": "point", "shape": "square", "filled": true, "size": 70, "color": "black", "opacity": 1, "clip": true},
 "encoding": {
  "x": {"field": "x", "type": "quantitative", "axis": null},
  "y": {"field": "cp", "type": "quantitative", "axis": null},
  "shape": {"datum": "Exp.", "scale": {"domain": ["Exp."], "range": ["square"]},
    "legend": {"orient": "none", "legendX": 123, "legendY": 286, "title": null, "symbolSize": 70, "symbolFillColor": "black", "symbolStrokeWidth": 0, "labelOffset": 32}}
 }}
]
}
],
"resolve": {"scale": {"x": "independent", "y": "independent", "color": "independent", "shape": "independent"}, "legend": {"color": "independent", "shape": "independent"}},
"config": {
 "font": "Liberation Sans",
 "view": {"stroke": null},
 "axis": {"grid": false, "domainColor": "black", "domainWidth": 2, "tickColor": "black", "tickWidth": 1.5,
   "labelFont": "Liberation Sans", "labelFontSize": 17, "labelFontWeight": "bold", "labelColor": "black",
   "labelOverlap": false, "labelFlush": false, "labelBound": false,
   "titleFont": "Liberation Sans", "titleFontWeight": "bold", "titleColor": "black"},
 "legend": {"labelFont": "Liberation Sans", "labelFontSize": 13, "labelFontWeight": "bold", "labelColor": "black", "labelLimit": 400},
 "title": {"font": "Liberation Sans", "fontSize": 15.5, "fontWeight": "bold", "color": "black", "lineHeight": 15}
}
}
